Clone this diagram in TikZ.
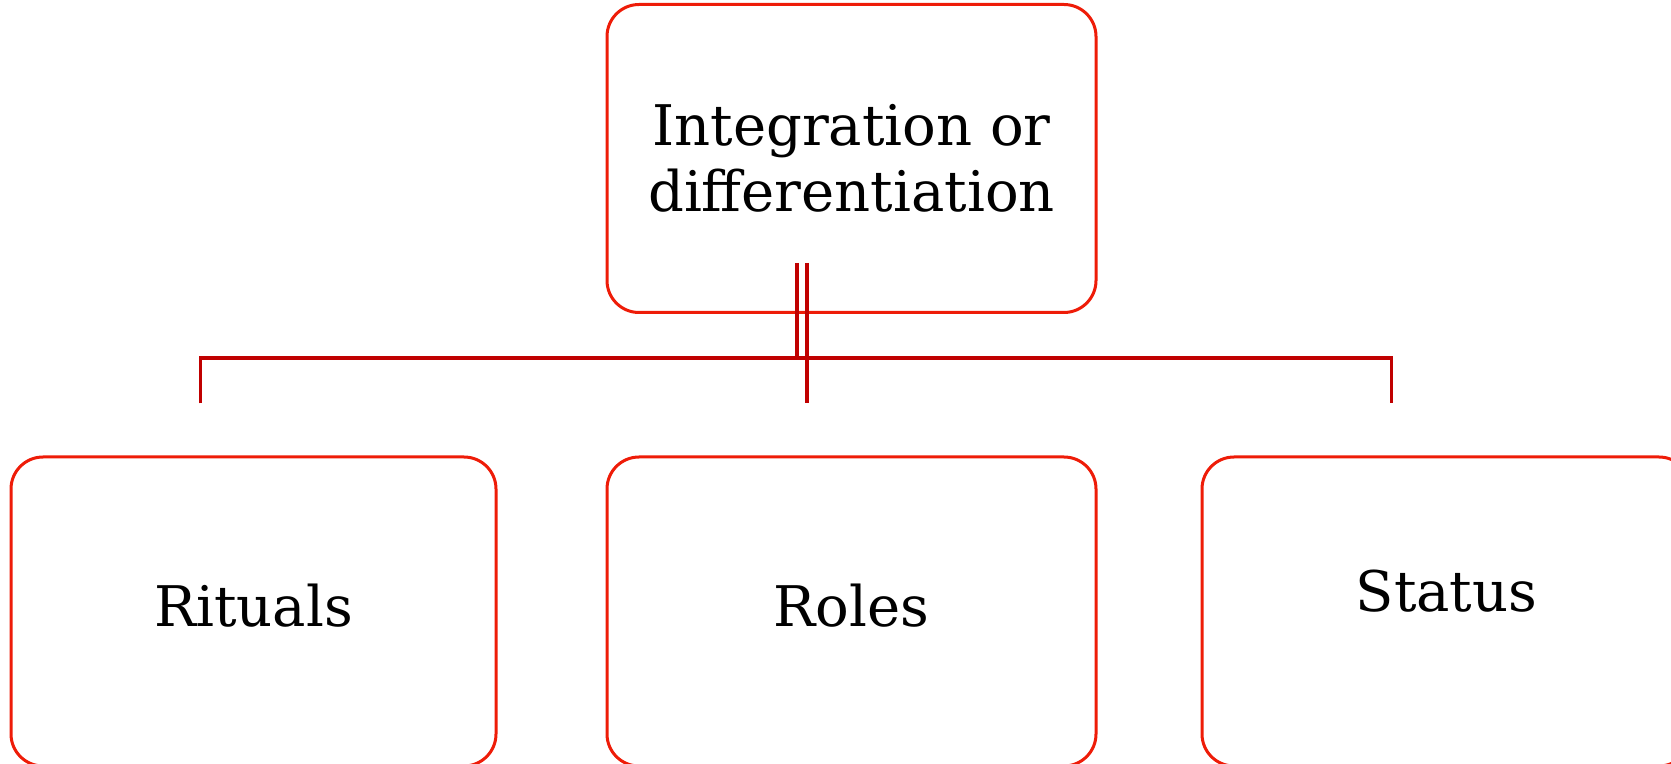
\documentclass[tikz,border=0pt]{standalone}
\usepackage{fontspec}
\setmainfont{DejaVu Serif}
\usetikzlibrary{positioning}
\definecolor{boxred}{RGB}{238,28,8}
\definecolor{linkred}{RGB}{192,0,0}

\begin{document}
\begin{tikzpicture}[x=0.5pt, y=-0.5pt, node distance=70.75pt and 53pt,
        chart box/.style={rectangle, draw=boxred, line width=1.5pt, rounded corners=16pt, minimum width=244.5pt, minimum height=154pt, align=center, font=\fontsize{28}{33}\selectfont},
        link/.style={draw=linkred, line width=1.6pt}]
    \useasboundingbox (0,0) rectangle (1671,764);
    \node [chart box] (top) at (851.5,158.5) {Integration or\\differentiation};
    \node [chart box, below=of top, minimum height=154.5pt, text depth=6pt] (roles) {Roles};
    \node [chart box, left=54pt of roles, minimum width=242.5pt, minimum height=154.5pt, text depth=6pt] (rituals) {Rituals};
    \node [chart box, right=51.5pt of roles, minimum height=154.5pt, text depth=21pt] (status) {Status};

    % connector ends
    \coordinate (rootL) at ([xshift=-27.25pt, yshift=25.5pt]top.south);
    \coordinate (rootR) at ([xshift=-22.25pt, yshift=25.5pt]top.south);
    \coordinate (busLevel) at ([yshift=-22pt]top.south);
    \coordinate (endL) at ([xshift=-26.5pt, yshift=26pt]rituals.north);
    \coordinate (endM) at ([xshift=-22.25pt, yshift=26pt]roles.north);
    \coordinate (endR) at ([xshift=-27.5pt, yshift=26pt]status.north);

    \path [link] (rootL) -- (rootL |- busLevel);
    \path [link] (endL) -- (endL |- busLevel) -- (endR |- busLevel) -- (endR);
    \path [link] (rootR) -- (endM);
\end{tikzpicture}
\end{document}
